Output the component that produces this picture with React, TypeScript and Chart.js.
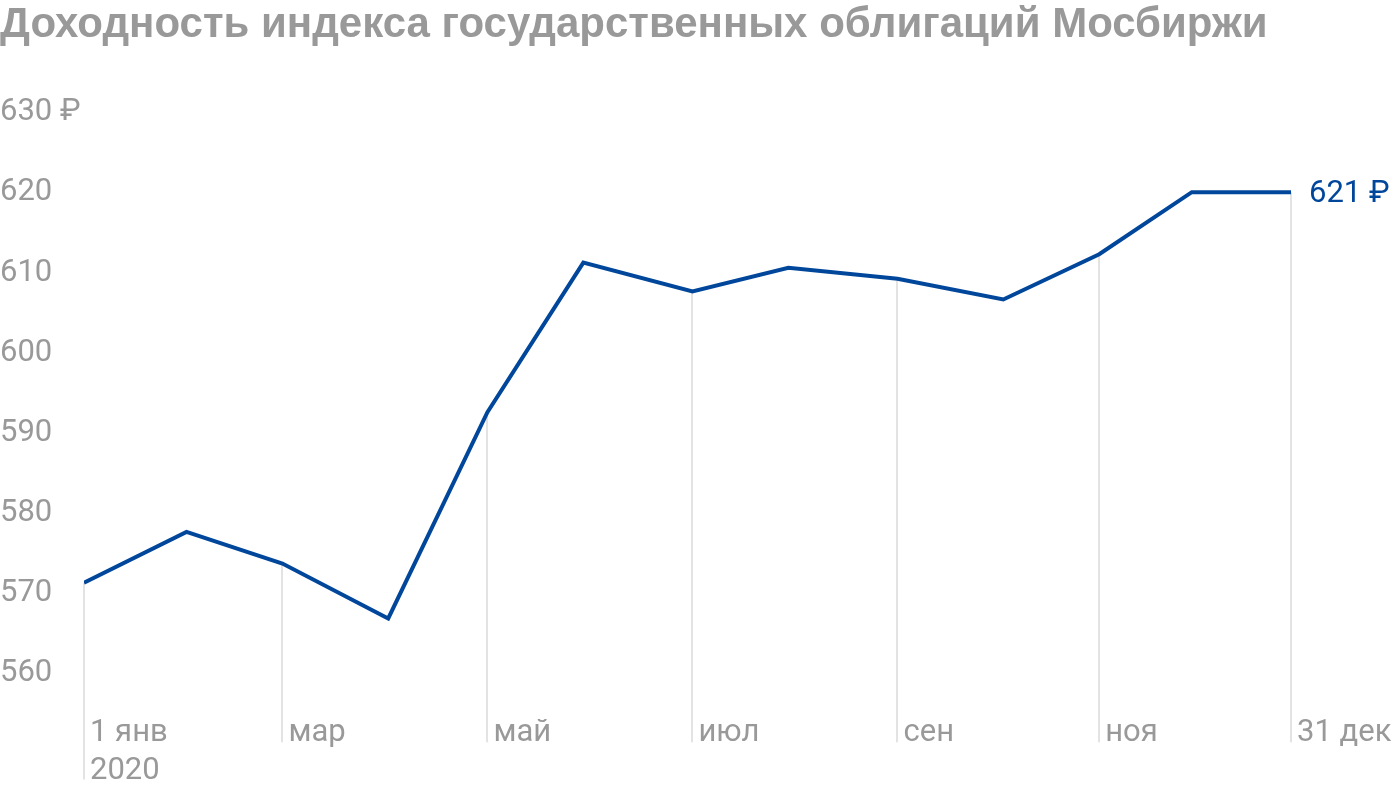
import React, { useEffect, useRef } from "react";
import { Chart, registerables } from "chart.js";

Chart.register(...registerables);

const TITLE = "Доходность индекса государственных облигаций Мосбиржи";
// day of year (0 = 1 Jan 2020) for each observation
const dayOfYear = [0, 31, 60, 92, 122, 151, 184, 213, 246, 278, 307, 335, 365];
const indexValues = [571.0, 577.35, 573.4, 566.55, 592.3, 610.95, 607.35, 610.3, 608.95, 606.35, 612.0, 619.75, 619.75];
const tickDays = [0, 60, 122, 184, 246, 307, 365];
const tickLabels: (string | string[])[] = [["1 янв", "2020"], "мар", "май", "июл", "сен", "ноя", "31 дек"];
const yTicks = [560, 570, 580, 590, 600, 610, 620, 630];
const yTickLabels = ["560", "570", "580", "590", "600", "610", "620", "630 ₽"];
const lastLabel = "621 ₽";

const BLUE = "#00479B";
const GRAY = "#999999";
const GRID = "#e3e3e3";
const TICK_FONT = 31;
const LINE_H = TICK_FONT * 1.2;
const TITLE_FONT = 42;

export default function App() {
  const ref = useRef<HTMLCanvasElement>(null);

  useEffect(() => {
    const canvas = ref.current;
    if (!canvas) return;

    const dropLines = {
      id: "dropLines",
      beforeDatasetsDraw(chart: any) {
        const ctx = chart.ctx;
        const meta = chart.getDatasetMeta(0);
        ctx.save();
        ctx.strokeStyle = GRID;
        ctx.lineWidth = 2;
        tickDays.forEach((d, i) => {
          const idx = dayOfYear.indexOf(d);
          const pt = meta.data[idx];
          if (!pt) return;
          const lab = tickLabels[i];
          const lines = Array.isArray(lab) ? lab.length : 1;
          const bottom = chart.chartArea.bottom + lines * LINE_H - 6;
          ctx.beginPath();
          ctx.moveTo(Math.round(pt.x), pt.y);
          ctx.lineTo(Math.round(pt.x), bottom);
          ctx.stroke();
        });
        ctx.restore();
      },
    };

    const endLabel = {
      id: "endLabel",
      afterDatasetsDraw(chart: any) {
        const ctx = chart.ctx;
        const meta = chart.getDatasetMeta(0);
        const pt = meta.data[meta.data.length - 1];
        if (!pt) return;
        ctx.save();
        ctx.fillStyle = BLUE;
        ctx.font = `${TICK_FONT}px Roboto`;
        ctx.textAlign = "left";
        ctx.textBaseline = "middle";
        ctx.fillText(lastLabel, pt.x + 18, pt.y + 2.5);
        ctx.restore();
      },
    };

    const chart = new Chart(canvas, {
      type: "line",
      data: {
        datasets: [
          {
            data: dayOfYear.map((d, i) => ({ x: d, y: indexValues[i] })),
            borderColor: BLUE,
            borderWidth: 4,
            pointRadius: 0,
            tension: 0,
            fill: false,
          },
        ],
      },
      options: {
        responsive: false,
        animation: false,
        layout: { padding: { top: 0, left: 0, right: 109, bottom: 0 } },
        plugins: {
          legend: { display: false },
          tooltip: { enabled: false },
          title: {
            display: true,
            text: TITLE,
            align: "start",
            color: GRAY,
            font: { family: "'Liberation Sans', Arial, sans-serif", size: TITLE_FONT, weight: "bold", lineHeight: 1.2 },
            padding: { top: 0, bottom: 110 - TITLE_FONT * 1.2 },
          },
        },
        scales: {
          x: {
            type: "linear",
            min: 0,
            max: 365,
            grid: { display: false },
            border: { display: false },
            afterBuildTicks: (scale: any) => {
              scale.ticks = tickDays.map((v) => ({ value: v }));
            },
            afterFit: (scale: any) => {
              scale.height = 81;
            },
            ticks: {
              autoSkip: false,
              maxRotation: 0,
              minRotation: 0,
              align: "start",
              labelOffset: 6,
              padding: -4,
              color: GRAY,
              font: { family: "Roboto", size: TICK_FONT, lineHeight: 1.2 },
              callback: (_v: any, i: number) => tickLabels[i],
            },
          },
          y: {
            min: 555,
            max: 630,
            grid: { display: false },
            border: { display: false },
            afterBuildTicks: (scale: any) => {
              scale.ticks = yTicks.map((v) => ({ value: v }));
            },
            afterFit: (scale: any) => {
              scale.width = 84;
            },
            ticks: {
              crossAlign: "far",
              padding: 0,
              labelOffset: 2.5,
              color: GRAY,
              font: { family: "Roboto", size: TICK_FONT },
              callback: (_v: any, i: number) => yTickLabels[i],
            },
          },
        },
      },
      plugins: [dropLines, endLabel],
    } as any);

    return () => chart.destroy();
  }, []);

  return (
    <div style={{ position: "absolute", left: 0, top: 0, width: 1400, height: 792, background: "#fff" }}>
      <canvas ref={ref} width={1400} height={792} style={{ display: "block" }} />
    </div>
  );
}
